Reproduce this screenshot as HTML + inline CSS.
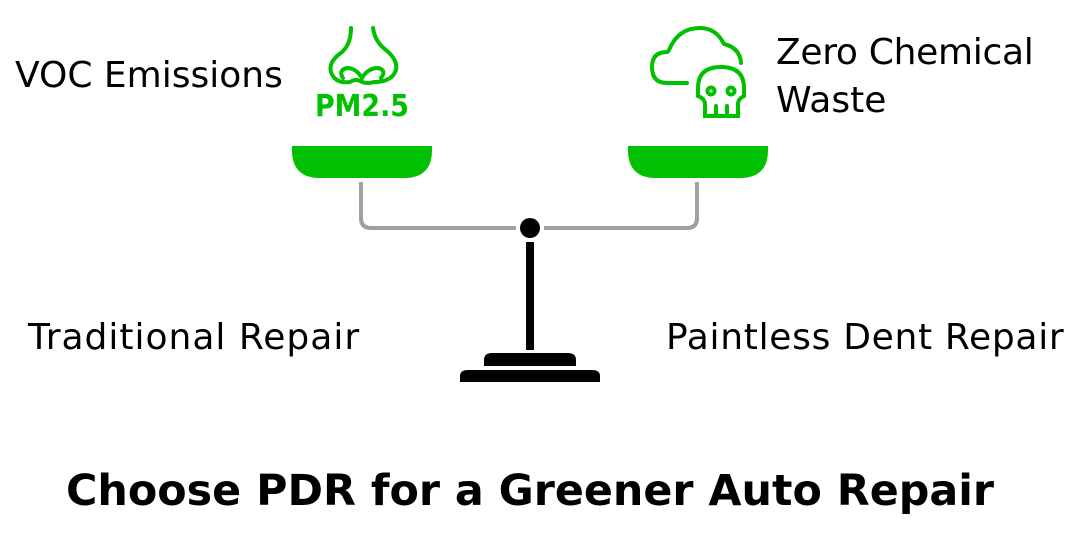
<!DOCTYPE html>
<html><head><meta charset="utf-8"><style>
body{margin:0;background:#fff;width:1083px;height:533px;overflow:hidden;position:relative;font-family:"DejaVu Sans","Liberation Sans",sans-serif}
.t{position:absolute;color:#000;font-size:36px;white-space:nowrap}
</style></head><body>
<svg width="1083" height="533" style="position:absolute;left:0;top:0">
<path d="M292 146 H432 V150 Q432 178 404 178 H320 Q292 178 292 150 Z" fill="#00c000"/>
<path d="M628 146 H768 V150 Q768 178 740 178 H656 Q628 178 628 150 Z" fill="#00c000"/>
<path d="M361 182 V218 Q361 228 371 228 H516 M544 228 H687 Q697 228 697 218 V182" fill="none" stroke="#a0a0a0" stroke-width="4"/>
<circle cx="530" cy="228" r="10" fill="#000"/>
<rect x="526" y="242" width="8" height="108" fill="#000"/>
<path d="M484 366 V360 Q484 353 492 353 H568 Q576 353 576 360 V366 Z" fill="#000"/>
<path d="M460 382 V376 Q460 370 468 370 H592 Q600 370 600 376 V382 Z" fill="#000"/>
<g fill="none" stroke="#00c000" stroke-width="4" stroke-linecap="round">
<path d="M351 28 Q351 44 342 52 Q328 62 331 72 Q335 84 350 82 Q356 78 362 82 Q368 84 374 82 Q392 82 396 70 Q398 60 386 50 Q375 42 373 28"/>
<path d="M343 78 Q338 70 347 68 Q356 68 362 78 Q368 68 378 68 Q387 70 381 78"/>
</g>
<text x="315" y="116" fill="#00c000" font-family="DejaVu Sans,sans-serif" font-size="30" font-weight="bold" textLength="94" lengthAdjust="spacingAndGlyphs">PM2.5</text>
<g fill="none" stroke="#00c000" stroke-width="4" stroke-linecap="round">
<path d="M687 83 H667 Q652 83 652 67 Q652 52 667 52 Q668 52 669 50 Q678 28 700 28 Q716 28 724 44 Q740 48 741 63"/>
<path d="M698 96 V88 Q698 67 721 67 Q744 67 744 88 V96 Q738 99 738 104 V116 H705 V104 Q705 99 698 96 Z"/>
<circle cx="711" cy="91" r="3.5"/><circle cx="731" cy="91" r="3.5"/>
<path d="M716 106 V115 M727 106 V115"/>
</g>
</svg>
<div class="t" style="left:15px;top:55px">VOC Emissions</div>
<div class="t" style="left:776px;top:32px;letter-spacing:-0.3px">Zero Chemical</div>
<div class="t" style="left:776px;top:80px">Waste</div>
<div class="t" style="left:28px;top:317px;letter-spacing:1px">Traditional Repair</div>
<div class="t" style="left:666px;top:317px;letter-spacing:0.7px">Paintless Dent Repair</div>
<div class="t" style="left:66px;top:466px;font-size:42.8px;font-weight:bold">Choose PDR for a Greener Auto Repair</div>
</body></html>
